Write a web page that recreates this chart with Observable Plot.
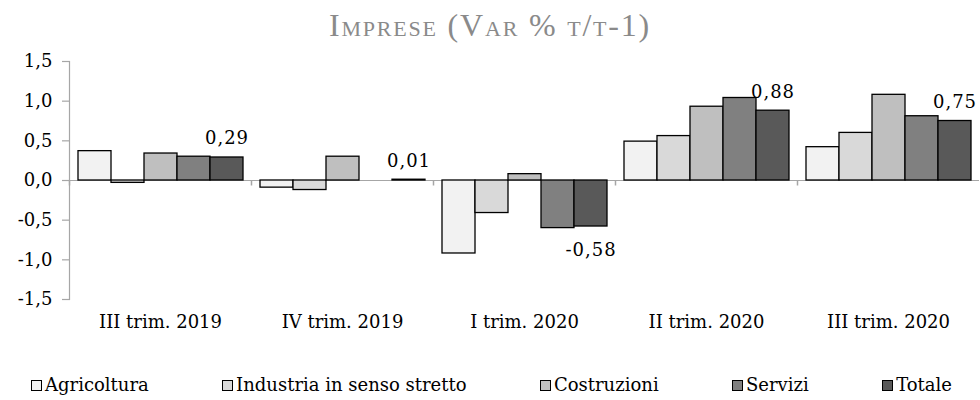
<!DOCTYPE html>
<html><head><meta charset="utf-8">
<script src="https://cdn.jsdelivr.net/npm/d3@7"></script>
<script src="https://cdn.jsdelivr.net/npm/@observablehq/plot@0.6"></script>
<style>
body{margin:0;background:#fff;}
#wrap{position:relative;width:980px;height:400px;font-family:"DejaVu Serif",serif;overflow:hidden;}
#title{position:absolute;top:6px;left:0;width:980px;text-align:center;font-family:"Liberation Serif",serif;font-variant:small-caps;font-size:32px;letter-spacing:1.8px;color:#8a8a8a;line-height:38px;white-space:nowrap;}
#chart{position:absolute;top:50px;left:0;}
#chart g[aria-label="text"] text{letter-spacing:1px;}
#legend{position:absolute;top:374px;left:31px;width:921px;display:flex;justify-content:space-between;font-size:18px;line-height:22px;color:#000;}
#legend .it{display:flex;align-items:center;white-space:nowrap;}
#legend .sw{width:9px;height:9px;border:1px solid #000;margin-right:3px;}
</style></head>
<body><div id="wrap"><div id="title">Imprese (Var % t/t-1)</div><div id="chart"></div><div id="legend"></div></div>
<script>
const quarters = ["III trim. 2019","IV trim. 2019","I trim. 2020","II trim. 2020","III trim. 2020"];
const series = ["Agricoltura","Industria in senso stretto","Costruzioni","Servizi","Totale"];
const colors = ["#f2f2f2","#d9d9d9","#bfbfbf","#808080","#595959"];
const agricoltura = [0.37,-0.09,-0.92,0.49,0.42];
const industria = [-0.03,-0.12,-0.41,0.56,0.60];
const costruzioni = [0.34,0.30,0.08,0.93,1.08];
const servizi = [0.30,0.00,-0.60,1.04,0.81];
const totale = [0.29,0.01,-0.58,0.88,0.75];
const yTicks = [-1.5,-1,-0.5,0,0.5,1,1.5];

const values = [agricoltura, industria, costruzioni, servizi, totale];
const data = quarters.flatMap((q,i)=>series.map((s,j)=>({q, s, v: values[j][i]})));
const labels = quarters.map((q,i)=>({q, s: "Totale", v: totale[i]}));
const fmt1 = d => d.toFixed(1).replace(".", ",");
const fmt2 = d => d.toFixed(2).replace(".", ",");
const vtick = {draw(ctx, size){ const r = Math.sqrt(size/Math.PI); ctx.moveTo(0,0); ctx.lineTo(0,r); }};
const axisGray = "#a6a6a6";

const chart = Plot.plot({
  width: 980, height: 290,
  marginTop: 11, marginBottom: 41, marginLeft: 69, marginRight: 1,
  style: {fontFamily: '"DejaVu Serif", serif', fontSize: "18px", color: "#000", background: "#fff"},
  fx: {domain: quarters, padding: 0, label: null},
  x: {domain: series, paddingInner: 0, paddingOuter: 0.22, axis: null},
  y: {domain: [-1.5, 1.5], label: null},
  color: {domain: series, range: colors},
  marks: [
    Plot.ruleY([0], {stroke: axisGray, strokeWidth: 1.2}),
    Plot.frame({anchor: "left", facetAnchor: "left", stroke: axisGray, strokeWidth: 1.2}),
    Plot.dot(quarters, {fx: d => d, y: () => 0, frameAnchor: "left", symbol: vtick, r: 5, stroke: axisGray, fill: "none"}),
    Plot.axisY({ticks: yTicks, tickFormat: fmt1, tickSize: 7, tickPadding: 10, stroke: axisGray, strokeWidth: 1.2, label: null}),
    Plot.axisFx({anchor: "bottom", tickSize: 0, tickPadding: 16, label: null}),
    Plot.barY(data, {fx: "q", x: "s", y: "v", fill: "s", stroke: "#000", strokeWidth: 1.3}),
    Plot.text(labels.filter(d => d.v >= 0), {fx: "q", x: "s", y: "v", text: d => fmt2(d.v), lineAnchor: "bottom", dy: -13, fill: "#000"}),
    Plot.text(labels.filter(d => d.v < 0), {fx: "q", x: "s", y: "v", text: d => fmt2(d.v), lineAnchor: "top", dy: 17, fill: "#000"})
  ]
});
document.getElementById("chart").appendChild(chart);

const lg = document.getElementById("legend");
series.forEach((s,j)=>{
  const it = document.createElement("div"); it.className = "it";
  const sw = document.createElement("span"); sw.className = "sw"; sw.style.background = colors[j];
  const tx = document.createElement("span"); tx.textContent = s;
  it.appendChild(sw); it.appendChild(tx); lg.appendChild(it);
});
</script></body></html>
